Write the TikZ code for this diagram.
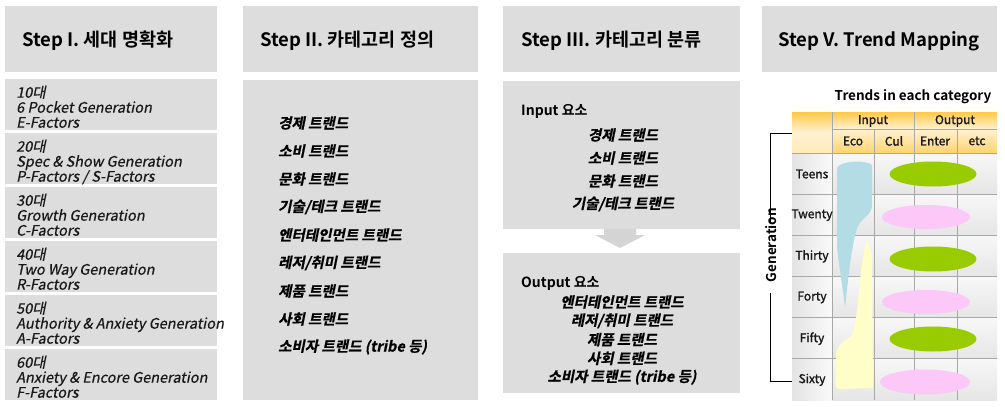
\documentclass[tikz,border=0pt]{standalone}
\usepackage{fontspec}
\setmainfont{Noto Sans CJK KR}
\newfontfamily\krreg{Noto Sans CJK KR}
\newfontfamily\krmed[FakeBold=1.5]{Noto Sans CJK KR}
\newfontfamily\krbold{Noto Sans CJK KR Bold}
\newfontfamily\krit[FakeSlant=0.2,FakeBold=0.6]{Noto Sans CJK KR}
\newfontfamily\krbi[FakeSlant=0.2,FakeBold=0.8]{Noto Sans CJK KR Bold}
\usetikzlibrary{shapes.geometric}
\definecolor{boxgray}{HTML}{DDDDDD}
\definecolor{arrowgray}{HTML}{D4D4D4}
\definecolor{gridgray}{HTML}{A8A8A8}
\definecolor{hdrorange}{HTML}{FFC94A}
\definecolor{hdrlight}{HTML}{FFF1D2}
\definecolor{blueblob}{HTML}{B4DCE4}
\definecolor{yellowblob}{HTML}{FFFDC8}
\definecolor{greenell}{HTML}{99CC00}
\definecolor{pinkell}{HTML}{FBC8F8}
\tikzset{
  panel/.style={fill=boxgray,draw=none,anchor=north west,inner sep=0,outer sep=0},
  steptitle/.style={font=\krbold\fontsize{18.5}{20}\selectfont,anchor=west,inner sep=0,text=black},
  gentext/.style={font=\krit\fontsize{14.5}{15}\selectfont,align=left,anchor=north west,inner sep=0,text=black!90},
  trendline/.style={font=\krbi\fontsize{14.5}{16}\selectfont,inner sep=0,text=black},
  subhead/.style={font=\krbold\fontsize{14}{16}\selectfont,anchor=west,inner sep=0,text=black},
  celltext/.style={font=\krmed\fontsize{12}{14}\selectfont,inner sep=0,text=black!90},
  ell/.style={ellipse,draw=none,inner sep=0},
}
\begin{document}
\begin{tikzpicture}[x=1pt,y=-1pt]
\useasboundingbox[fill=white] (0,0) rectangle (1005,407);

% ---------- Column 1 ----------
\node[panel,minimum width=212,minimum height=66] (h1) at (5,6) {};
\node[steptitle] (t1) at (22,41) {Step I. 세대 명확화};
\foreach \i/\a/\b/\c in {0/10대/6 Pocket Generation/E-Factors,
                         1/20대/Spec \& Show Generation/{P-Factors / S-Factors},
                         2/30대/Growth Generation/C-Factors,
                         3/40대/Two Way Generation/R-Factors,
                         4/50대/Authority \& Anxiety Generation/A-Factors,
                         5/60대/Anxiety \& Encore Generation/F-Factors}{
  \node[panel,minimum width=212,minimum height=51] (g\i) at (5,79+54*\i) {};
  \node[gentext] (gt\i) at (16,85.5+54*\i) {\a\\\b\\\c};
}

% ---------- Column 2 ----------
\node[panel,minimum width=235,minimum height=66] (h2) at (243,6) {};
\node[steptitle] (t2) at (260,41) {Step II. 카테고리 정의};
\node[panel,minimum width=235,minimum height=320] (b2) at (243,80) {};
\foreach \i/\txt in {0/{경제 트랜드},1/{소비 트랜드},2/{문화 트랜드},3/{기술/테크 트랜드},
                     4/{엔터테인먼트 트랜드},5/{레저/취미 트랜드},6/{제품 트랜드},
                     7/{사회 트랜드},8/{소비자 트랜드 (tribe 등)}}{
  \node[trendline,anchor=west] (c2l\i) at (278,123+28*\i) {\txt};
}

% ---------- Column 3 ----------
\node[panel,minimum width=237,minimum height=66] (h3) at (503,6) {};
\node[steptitle] (t3) at (521,41) {Step III. 카테고리 분류};
\node[panel,minimum width=237,minimum height=148] (inbox) at (503,81) {};
\node[subhead] (inhead) at (521,111) {Input 요소};
\foreach \i/\txt in {0/{경제 트랜드},1/{소비 트랜드},2/{문화 트랜드},3/{기술/테크 트랜드}}{
  \node[trendline] (c3i\i) at (623,135+23*\i) {\txt};
}
\fill[arrowgray] (604,229) -- (636,229) -- (636,235) -- (645,235) -- (620,248)
   -- (595,235) -- (604,235) -- cycle;
\node[panel,minimum width=237,minimum height=140] (outbox) at (503,253) {};
\node[subhead] (outhead) at (521,283) {Output 요소};
\foreach \i/\txt in {0/{엔터테인먼트 트랜드},1/{레저/취미 트랜드},2/{제품 트랜드},
                     3/{사회 트랜드},4/{소비자 트랜드 (tribe 등)}}{
  \node[trendline] (c3o\i) at (622,302+18.8*\i) {\txt};
}

% ---------- Column 4 ----------
\node[panel,minimum width=235,minimum height=66] (h4) at (762,6) {};
\node[steptitle] (t4) at (778,41) {Step V. Trend Mapping};
\node[font=\krbold\fontsize{13.5}{15}\selectfont,inner sep=0] (tt) at (913,97) {Trends in each category};

% header cells
\fill[top color=hdrorange,bottom color=hdrorange!40!white,middle color=hdrlight] (792,112) rectangle (832,153);
\fill[top color=hdrorange,bottom color=hdrlight] (832,112) rectangle (997,129);
\fill[top color=hdrlight,bottom color=hdrorange!80] (832,129) rectangle (997,153);
% label cells and body
\foreach \r in {0,...,5}{
  \fill[left color=black!11,right color=black!2] (792,153+41.17*\r) rectangle (832,153+41.17*\r+41.17);
  \fill[top color=black!3,bottom color=black!10] (832,153+41.17*\r) rectangle (997,153+41.17*\r+41.17);
}
% grid
\begin{scope}[draw=gridgray,line width=0.8pt]
  \draw (832,112) -- (832,400);
  \draw (914,112) -- (914,400);
  \draw (874,129) -- (874,400);
  \draw (957,129) -- (957,400);
  \draw (832,129) -- (997,129);
  \foreach \r in {0,...,5}{ \draw (792,153+41.17*\r) -- (997,153+41.17*\r); }
\end{scope}

% header labels
\node[celltext] (hin) at (873,121) {Input};
\node[celltext] (hout) at (955,121) {Output};
\node[celltext] (heco) at (853,141) {Eco};
\node[celltext] (hcul) at (894,141) {Cul};
\node[celltext] (hent) at (935,141) {Enter};
\node[celltext] (hetc) at (977,141) {etc};

% blobs
\fill[blueblob] (840,165) .. controls (846,161) and (866,160) .. (872,165)
  -- (872,205) .. controls (872,215) and (862,218) .. (858,226)
  .. controls (852,240) and (848,280) .. (845,308)
  .. controls (842,280) and (838,262) .. (837,245)
  -- (837,170) .. controls (837,167) .. (840,165) -- cycle;
\fill[yellowblob] (866,240) .. controls (869,244) and (872,250) .. (872,258)
  -- (873,388) -- (838,389) .. controls (835,386) .. (836,372)
  -- (836,356) .. controls (836,346) and (842,342) .. (850,337)
  .. controls (856,332) and (858,300) .. (861,270)
  .. controls (863,255) .. (866,240) -- cycle;

% ellipses
\node[ell,fill=greenell,minimum width=87,minimum height=25] (e1) at (933,174) {};
\node[ell,fill=pinkell,minimum width=88,minimum height=24] (e2) at (926,217) {};
\node[ell,fill=greenell,minimum width=87,minimum height=25] (e3) at (933,259) {};
\node[ell,fill=pinkell,minimum width=88,minimum height=24] (e4) at (926,302) {};
\node[ell,fill=greenell,minimum width=87,minimum height=25] (e5) at (933,339) {};
\node[ell,fill=pinkell,minimum width=90,minimum height=25] (e6) at (925,382) {};

% row labels
\foreach \i/\lab in {0/Teens,1/Twenty,2/Thirty,3/Forty,4/Fifty,5/Sixty}{
  \node[celltext] (rl\i) at (812,174+41.17*\i) {\lab};
}

% generation bracket
\node[font=\krbold\fontsize{13.5}{15}\selectfont,rotate=90,inner sep=0] (gen) at (771,245) {Generation};
\coordinate (bt1) at (792,133);
\coordinate (bt2) at (770,133);
\coordinate (bt3) at (770,222);
\coordinate (bb1) at (770,293);
\coordinate (bb2) at (770,381);
\coordinate (bb3) at (792,381);
\draw[line width=1pt] (bt1) -- (bt2) -- (bt3);
\draw[line width=1pt] (bb1) -- (bb2) -- (bb3);
\end{tikzpicture}
\end{document}
